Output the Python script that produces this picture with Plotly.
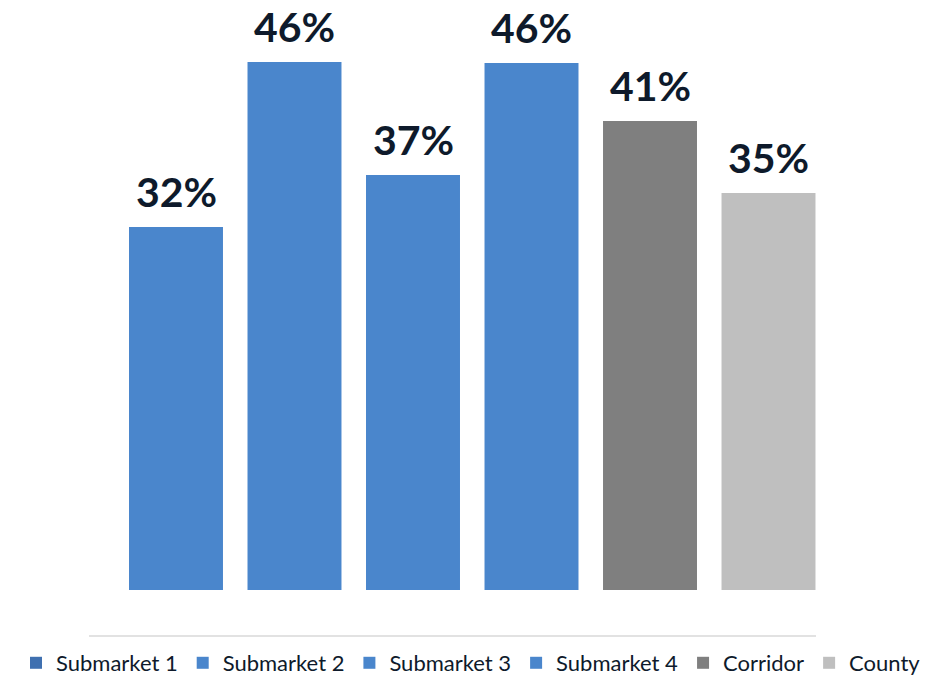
import plotly.graph_objects as go

categories = ["Submarket 1", "Submarket 2", "Submarket 3", "Submarket 4", "Corridor", "County"]
values = [0.3194, 0.4646, 0.3652, 0.4637, 0.4127, 0.3493]
bar_colors = ["#4A86CC", "#4A86CC", "#4A86CC", "#4A86CC", "#7F7F7F", "#BFBFBF"]
legend_colors = ["#3F70B0", "#4A86CC", "#4A86CC", "#4A86CC", "#7F7F7F", "#BFBFBF"]

TEXT = "#0E1A2B"
FONT = "Lato, 'DejaVu Sans', sans-serif"

fig = go.Figure()
for i, (name, v) in enumerate(zip(categories, values)):
    same = bar_colors[i] == legend_colors[i]
    fig.add_trace(go.Bar(
        x=[i], y=[v], name=name, width=0.793,
        marker=dict(color=bar_colors[i], line=dict(width=0)),
        showlegend=same, legendrank=i + 1,
        hovertemplate="%{y:.0%}<extra>" + name + "</extra>",
    ))
    if not same:
        fig.add_trace(go.Bar(
            x=[None], y=[None], name=name,
            marker=dict(color=legend_colors[i], line=dict(width=0)),
            showlegend=True, legendrank=i + 1,
        ))

for i, v in enumerate(values):
    fig.add_annotation(
        x=i, y=v, text=f"{v:.0%}", showarrow=False,
        yanchor="bottom", yshift=9,
        font=dict(family=FONT, size=41, color=TEXT, weight="bold"),
    )

fig.add_shape(
    type="line", xref="paper", yref="paper",
    x0=0.0857, x1=0.8742, y0=-0.0807, y1=-0.0807,
    line=dict(color="#D9D9D9", width=1.5),
)

fig.update_layout(
    width=942, height=677,
    margin=dict(l=10, r=10, t=20, b=87),
    paper_bgcolor="white", plot_bgcolor="white",
    barmode="overlay",
    xaxis=dict(range=[-1.4008, 6.3797], visible=False, fixedrange=True),
    yaxis=dict(range=[0, 0.50154], visible=False, fixedrange=True),
    showlegend=True,
    legend=dict(
        orientation="h", xref="paper", yref="container",
        x=0.5, xanchor="center", y=0.0207, yanchor="middle",
        font=dict(family=FONT, size=22, color=TEXT),
        itemwidth=30, tracegroupgap=0, bgcolor="rgba(0,0,0,0)",
    ),
    font=dict(family=FONT, color=TEXT),
)

fig.write_html("out.html", config={"displayModeBar": False},
               post_script="document.body.style.margin='0px';")
